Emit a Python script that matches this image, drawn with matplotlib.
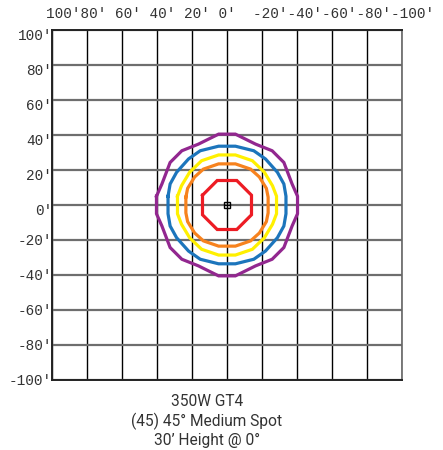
import matplotlib
matplotlib.use('Agg')
import matplotlib.pyplot as plt
import matplotlib.transforms as mtransforms
import numpy as np

# grid lines every 20 ft
grid_ticks = [-100, -80, -60, -40, -20, 0, 20, 40, 60, 80, 100]
y_labels = ["-100'", "-80'", "-60'", "-40'", "-20'", "0'", "20'", "40'", "60'", "80'", "100'"]
top_label = "100'80' 60' 40' 20' 0'  -20'-40'-60'-80'-100'"
title_lines = ["350W GT4", "(45) 45° Medium Spot", "30’ Height @ 0°"]

# iso-footcandle contours, first quadrant vertices in feet (x, y)
red_q1 = [(14.0, 5.6), (5.6, 14.0)]
orange_q1 = [(23.5, 4.5), (22.5, 9.5), (18.5, 16.0), (13.5, 20.5), (4.8, 23.5)]
yellow_q1 = [(28.3, 5.0), (26.0, 11.0), (21.3, 18.8), (14.5, 25.3), (4.8, 28.6)]
blue_q1 = [(33.7, 5.0), (32.5, 12.0), (28.8, 18.7), (22.0, 26.3), (15.3, 31.0), (4.8, 33.6)]
purple_q1 = [(40.3, 5.0), (37.2, 12.0), (32.5, 24.3), (25.8, 31.0), (16.3, 34.8), (4.8, 40.5)]

contours = [
    (purple_q1, '#92278F'),
    (blue_q1, '#1C75BC'),
    (yellow_q1, '#FFF000'),
    (orange_q1, '#F7821E'),
    (red_q1, '#ED1C24'),
]


def full_ring(q1):
    # light pattern is symmetric, mirror the quadrant round the centre
    q1 = np.array(q1)
    q2 = q1[::-1] * [-1, 1]
    q3 = q1 * [-1, -1]
    q4 = q1[::-1] * [1, -1]
    return np.vstack([q1, q2, q3, q4, q1[:1]])


fig = plt.figure(figsize=(4.43, 4.5), dpi=100)
ax = fig.add_axes([52 / 443, 70 / 450, 350 / 443, 350 / 450])

ax.set_xlim(100, -100)
ax.set_ylim(-100, 100)
ax.set_xticks(grid_ticks)
ax.set_yticks(grid_ticks)
ax.tick_params(length=0, labelbottom=False, labelleft=False)
ax.xaxis.grid(True, color='black', lw=1.0)
ax.yaxis.grid(True, color='#6e6e6e', lw=1.6)
ax.set_axisbelow(True)
for side in ['left', 'top', 'bottom']:
    ax.spines[side].set_color('#222222')
    ax.spines[side].set_linewidth(1.4)
ax.spines['right'].set_color('#666666')
ax.spines['right'].set_linewidth(1.2)

for q1, col in contours:
    ring = full_ring(q1)
    ax.plot(ring[:, 0], ring[:, 1], color=col, lw=2.3, solid_joinstyle='miter', zorder=3)

ax.plot([0], [0], marker='s', ms=5, mfc='none', mec='black', mew=1.0, zorder=4)
ax.plot([0], [0], marker='+', ms=5, color='black', mew=0.8, zorder=4)

# left labels, the ones at or above zero sit a bit under their line
mono = 'Liberation Mono'
for val, lab in zip(grid_ticks, y_labels):
    dy = -6 if val >= 0 else -1
    tr = mtransforms.offset_copy(ax.get_yaxis_transform(), fig=fig, x=0, y=dy, units='dots')
    ax.text(0.0, val, lab, transform=tr, ha='right', va='center',
            family=mono, fontsize=10.4, color='#333333')

fig.text(46 / 443, 1 - 14 / 450, top_label, ha='left', va='center',
         family=mono, fontsize=10.4, color='#333333')

for i, line in enumerate(title_lines):
    fig.text(207 / 443, 1 - (402 + i * 19) / 450, line, ha='center', va='center',
             family='Roboto', fontsize=11.2, color='#333333')

fig.savefig('out.png', dpi=100)
